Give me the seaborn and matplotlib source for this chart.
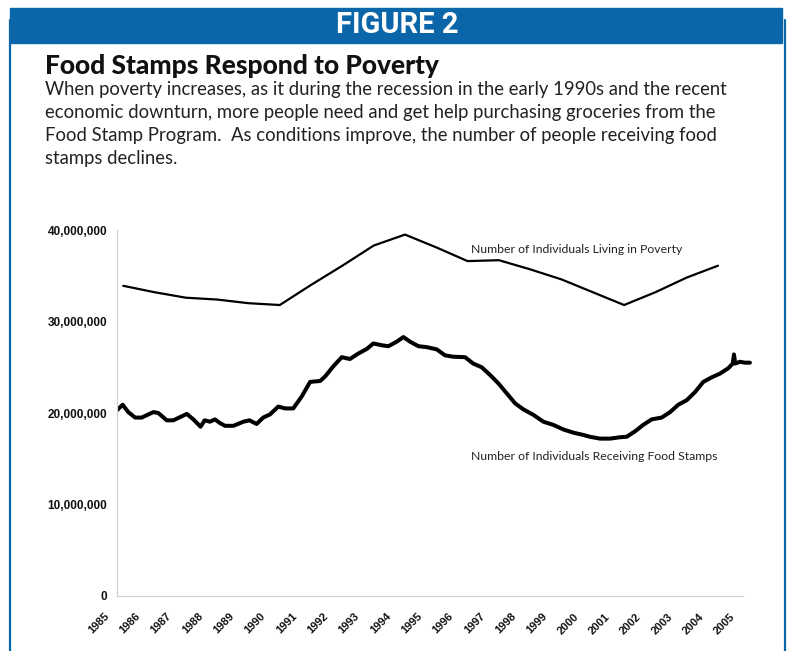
import numpy as np
import matplotlib
matplotlib.use("Agg")
import matplotlib.pyplot as plt
import matplotlib.transforms as mtransforms
from matplotlib.patches import Rectangle
from matplotlib.lines import Line2D
from matplotlib.ticker import FuncFormatter
import seaborn as sns

# ------------------------- DATA ------------------------- #
poverty_years = [1985.2, 1986.2, 1987.2, 1988.2, 1989.2, 1990.2, 1991.2, 1992.2, 1993.2, 1994.2,
                 1995.2, 1996.2, 1997.2, 1998.2, 1999.2, 2000.2, 2001.2, 2002.2, 2003.2, 2004.2]
poverty_millions = [33.9, 33.2, 32.6, 32.4, 32.0, 31.8, 34.0, 36.1, 38.3, 39.5,
                    38.1, 36.6, 36.7, 35.7, 34.6, 33.2, 31.8, 33.2, 34.8, 36.1]

fs_years = [1985.0, 1985.18, 1985.36, 1985.58, 1985.79, 1986.16, 1986.32, 1986.59, 1986.8,
            1987.23, 1987.44, 1987.67, 1987.8, 1987.97, 1988.13, 1988.29, 1988.45, 1988.72,
            1989.04, 1989.23, 1989.46, 1989.67, 1989.89, 1990.15, 1990.37, 1990.63, 1990.9,
            1991.17, 1991.49, 1991.65, 1991.91, 1992.18, 1992.44, 1992.71, 1992.98,
            1993.19, 1993.46, 1993.67, 1993.94, 1994.15, 1994.36, 1994.63, 1994.89,
            1995.21, 1995.48, 1995.74, 1996.12, 1996.38, 1996.65, 1996.92,
            1997.18, 1997.45, 1997.72, 1997.98, 1998.3, 1998.62, 1998.94,
            1999.26, 1999.58, 1999.9, 2000.11, 2000.43, 2000.75, 2001.07, 2001.28,
            2001.55, 2001.81, 2002.08, 2002.4, 2002.67, 2002.93, 2003.2, 2003.47,
            2003.73, 2004.0, 2004.26, 2004.53, 2004.67, 2004.71, 2004.75, 2004.9,
            2005.06, 2005.22]
fs_millions = [20.3, 20.9, 20.1, 19.5, 19.5, 20.1, 20.0, 19.2, 19.2,
               19.9, 19.3, 18.5, 19.2, 19.05, 19.3, 18.9, 18.6, 18.6,
               19.05, 19.2, 18.8, 19.5, 19.85, 20.7, 20.5, 20.5, 21.8,
               23.4, 23.5, 24.0, 25.1, 26.1, 25.9, 26.5, 27.0,
               27.6, 27.4, 27.3, 27.8, 28.3, 27.8, 27.3, 27.2,
               26.96, 26.3, 26.15, 26.1, 25.4, 25.0, 24.15,
               23.25, 22.15, 21.05, 20.4, 19.8, 19.05, 18.7,
               18.2, 17.85, 17.6, 17.4, 17.2, 17.2, 17.35, 17.4,
               18.0, 18.7, 19.3, 19.5, 20.1, 20.9, 21.4, 22.3,
               23.4, 23.9, 24.3, 24.9, 25.4, 26.4, 25.4, 25.6,
               25.5, 25.5]

tick_years = list(range(1985, 2006))
y_ticks = [0, 10_000_000, 20_000_000, 30_000_000, 40_000_000]

BLUE = "#0a66a8"
W, H = 792, 651

# ------------------------- FIGURE ------------------------- #
sns.set_style("white")
plt.rcParams["font.family"] = ["Lato", "DejaVu Sans"]

fig = plt.figure(figsize=(W / 100, H / 100), dpi=100)

# banner + side borders
fig.patches.append(Rectangle((10 / W, 1 - 43 / H), 772 / W, 35 / H,
                             transform=fig.transFigure, color=BLUE, zorder=0))
for xp in (9.5, 784.5):
    fig.lines.append(Line2D([xp / W, xp / W], [0, 1 - 20 / H], transform=fig.transFigure,
                            color=BLUE, linewidth=1.6))
fig.text(397 / W, 1 - 25 / H, "FIGURE 2", color="white", ha="center", va="center",
         fontsize=21, fontweight="bold", family=["Roboto", "DejaVu Sans"])

fig.text(45 / W, 1 - 66 / H, "Food Stamps Respond to Poverty", fontsize=19,
         fontweight="black", color="#111111", va="center")
body = [
    "When poverty increases, as it during the recession in the early 1990s and the recent",
    "economic downturn, more people need and get help purchasing groceries from the",
    "Food Stamp Program.  As conditions improve, the number of people receiving food",
    "stamps declines.",
]
for i, line in enumerate(body):
    fig.text(45 / W, 1 - (90 + 22.7 * i) / H, line, fontsize=13.35, color="#222222", va="center")

# ------------------------- CHART ------------------------- #
ax = fig.add_axes([117 / W, 1 - 596 / H, (758.7 - 117) / W, (596 - 230) / H])
sns.lineplot(x=poverty_years, y=np.array(poverty_millions) * 1e6, ax=ax,
             color="black", linewidth=1.6, sort=False)
sns.lineplot(x=fs_years, y=np.array(fs_millions) * 1e6, ax=ax,
             color="black", linewidth=2.9, sort=False)

ax.set_xlim(1985, 2005.5)
ax.set_ylim(0, 40_000_000)
ax.set_xticks(tick_years)
ax.set_xticklabels([str(y) for y in tick_years], rotation=45, ha="right",
                   fontsize=8, fontweight="bold", family=["Liberation Sans", "DejaVu Sans"])
ax.set_yticks(y_ticks)
ax.yaxis.set_major_formatter(FuncFormatter(lambda v, p: f"{v:,.0f}"))
for lab in ax.get_yticklabels():
    lab.set_fontsize(8.5)
    lab.set_fontweight("bold")
    lab.set_family(["Liberation Sans", "DejaVu Sans"])
ax.tick_params(axis="both", length=0, colors="#111111")
ax.tick_params(axis="y", pad=7)
ax.tick_params(axis="x", pad=11)
offset = mtransforms.ScaledTranslation(-6 / 100, 0, fig.dpi_scale_trans)
for lab in ax.get_xticklabels():
    lab.set_transform(lab.get_transform() + offset)

for side in ("top", "right"):
    ax.spines[side].set_visible(False)
for side in ("left", "bottom"):
    ax.spines[side].set_color("#d0d0d0")
    ax.spines[side].set_linewidth(0.9)
ax.spines["bottom"].set_bounds(1985, 2005)
ax.set_xlabel("")
ax.set_ylabel("")

ax.text(1996.3, 37_900_000, "Number of Individuals Living in Poverty",
        fontsize=8.8, color="#222222", va="center")
ax.text(1996.3, 15_300_000, "Number of Individuals Receiving Food Stamps",
        fontsize=8.8, color="#222222", va="center")

fig.savefig("out.png", dpi=100)
